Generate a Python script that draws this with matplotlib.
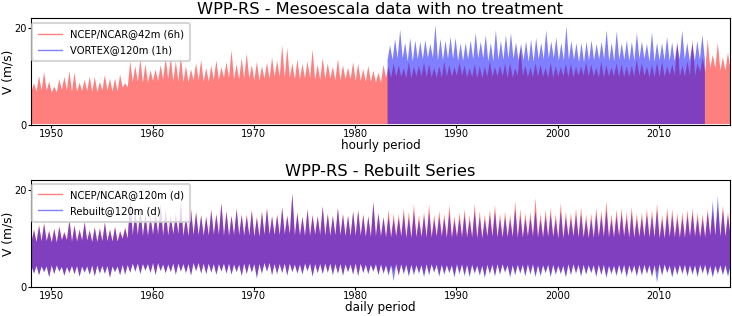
import numpy as np
import matplotlib
matplotlib.use("Agg")
import matplotlib.pyplot as plt
from matplotlib.lines import Line2D

# time span of the series (years)
start_year = 1948
end_year = 2017
vortex_start = 1983.15
vortex_end = 2014.47
top_floor = 0.3

# ---- top panel: raw mesoscale data ----
# half-year peak values (m/s)
ncep42_peak = [
    8.7, 10.2, 11.0, 9.0, 8.0, 9.5, 10.0, 11.2, 10.8, 8.8,
    9.4, 10.1, 10.0, 9.0, 10.4, 9.6, 9.7, 10.5, 8.7, 13.2,
    12.2, 13.7, 12.6, 11.4, 11.5, 12.4, 13.9, 14.1, 13.2, 14.4,
    12.2, 11.6, 12.8, 13.5, 11.8, 12.3, 13.4, 12.0, 13.0, 15.5,
    12.6, 13.8, 14.8, 12.4, 13.1, 12.2, 12.9, 14.0, 13.3, 16.5,
    16.0, 12.8, 13.6, 12.7, 13.2, 15.6, 12.5, 13.9, 12.8, 12.1,
    13.7, 12.4, 11.9, 13.0, 12.7, 11.6, 12.3, 11.3, 10.9, 12.5,
    12.2, 12.8, 12.4, 11.8, 13.0, 12.1, 12.3, 12.9, 12.6, 11.9,
    12.2, 13.1, 12.5, 12.0, 12.9, 12.3, 11.8, 12.6, 12.2, 12.1,
    13.2, 12.0, 12.3, 12.7, 12.9, 11.8, 15.9, 12.3, 12.0, 12.8,
    12.5, 11.9, 12.9, 12.2, 12.0, 12.6, 12.7, 12.1, 12.2, 13.0,
    12.6, 11.9, 13.1, 12.4, 12.0, 12.8, 12.6, 12.2, 12.3, 13.6,
    12.8, 12.1, 12.5, 13.0, 13.1, 12.2, 12.6, 17.3, 12.3, 13.2,
    17.7, 12.8, 13.9, 17.7, 14.5, 17.0, 14.0, 15.0,
]
# yearly upper level of the dense part
ncep42_body = [
    7.0, 7.2, 6.8, 7.3, 7.0, 7.1, 6.9, 7.2, 7.0, 7.8,
    9.0, 8.8, 9.2, 9.5, 9.1, 8.9, 9.3, 9.0, 9.4, 9.8,
    9.5, 9.7, 9.3, 9.6, 10.0, 9.8, 9.5, 9.7, 9.4, 9.6,
    9.3, 9.5, 9.2, 9.0, 8.8, 9.8, 10.0, 9.7, 10.1, 9.9,
    9.8, 10.0, 10.2, 9.9, 9.7, 10.0, 10.1, 9.8, 10.2, 9.9,
    10.0, 9.8, 10.1, 9.9, 10.2, 10.0, 9.8, 10.1, 9.9, 10.0,
    10.2, 9.9, 10.0, 10.3, 10.1, 10.2, 11.0, 11.8, 11.3,
]
vortex_peak = [
    16.5, 17.8, 19.7, 17.0, 18.0, 17.5, 17.2, 17.6, 16.8, 20.7,
    17.8, 17.4, 18.2, 18.0, 16.9, 17.0, 17.5, 19.0, 17.2, 18.6,
    17.0, 19.6, 17.4, 18.6, 19.0, 17.1, 16.8, 17.3, 17.6, 18.0,
    17.0, 19.6, 17.3, 18.1, 17.0, 20.4, 17.4, 16.9, 17.0, 17.2,
    17.5, 16.8, 17.2, 19.6, 17.0, 19.4, 16.9, 17.5, 17.2, 19.0,
    17.3, 16.8, 19.2, 17.0, 16.9, 18.2, 17.1, 16.8, 19.5, 17.0,
    16.8, 17.4, 18.6,
]
vortex_body = [
    13.5, 13.8, 13.2, 13.6, 13.9, 13.4, 13.7, 13.3, 13.6, 13.8,
    13.2, 13.5, 13.7, 13.4, 13.1, 13.6, 13.8, 13.3, 13.5, 13.0,
    13.4, 13.6, 13.2, 13.5, 13.3, 13.7, 13.1, 13.4, 13.2, 13.6,
    13.3, 13.5,
]

# ---- bottom panel: daily series ----
ncep120_peak = [
    12.0, 12.9, 13.3, 11.8, 12.2, 12.6, 11.5, 14.0, 12.9, 12.0,
    13.6, 11.9, 12.5, 12.3, 13.5, 12.0, 12.6, 11.7, 12.4, 18.4,
    15.8, 16.5, 15.2, 14.8, 15.5, 17.3, 16.0, 14.9, 15.3, 17.8,
    14.8, 16.2, 15.6, 15.0, 14.7, 16.1, 15.2, 17.5, 15.8, 14.9,
    16.3, 15.1, 15.0, 16.0, 14.6, 15.7, 16.4, 14.8, 15.1, 16.6,
    14.9, 19.4, 15.5, 14.7, 16.2, 15.0, 14.8, 16.8, 15.3, 14.9,
    16.5, 15.2, 14.9, 15.8, 16.0, 15.1, 14.8, 17.7, 15.4, 14.6,
    16.0, 15.2, 15.1, 16.3, 15.6, 17.1, 14.9, 15.5, 17.1, 15.0,
    15.8, 15.2, 17.0, 14.7, 15.4, 16.1, 14.9, 17.2, 15.7, 15.0,
    16.0, 17.0, 15.2, 15.6, 15.0, 17.8, 16.1, 15.3, 15.5, 18.4,
    15.2, 16.0, 16.4, 15.1, 17.4, 15.6, 15.3, 16.2, 16.5, 15.0,
    15.2, 16.4, 15.8, 17.8, 15.1, 16.0, 16.3, 15.5, 16.6, 15.2,
    15.4, 16.2, 15.9, 17.3, 15.0, 16.4, 16.1, 15.3, 15.5, 16.0,
    16.3, 15.4, 15.1, 16.2, 15.8, 16.5, 16.9, 15.5,
]
ncep120_dip = [
    3.0, 2.6, 3.3, 2.2, 2.9, 3.4, 2.5, 3.1, 2.8, 2.3,
    3.2, 2.7, 2.4, 3.0, 2.9, 2.1, 3.3, 2.6, 2.8, 3.1,
    3.4, 2.9, 3.6, 3.1, 2.7, 3.5, 3.0, 3.3, 2.8, 3.4,
    3.1, 2.6, 3.5, 3.0, 2.9, 3.2, 2.7, 3.4, 3.0, 2.8,
    3.3, 2.5, 2.9, 3.2, 2.2, 3.0, 3.4, 2.7, 2.9, 3.1,
    2.6, 3.3, 3.0, 2.8, 3.5, 2.4, 3.1, 2.9, 3.2, 2.7,
    3.0, 2.6, 3.3, 2.8, 2.5, 3.1, 2.9, 3.4, 2.7, 3.0,
    2.8, 3.2, 2.4, 3.0, 2.6, 2.9, 3.1, 2.5, 2.8, 3.3,
    2.6, 2.9, 3.2, 2.4, 3.0, 2.7, 2.5, 3.1, 2.8, 2.3,
    3.0, 2.6, 2.9, 3.3, 2.4, 2.8, 3.1, 2.6, 2.9, 2.5,
    2.7, 3.2, 2.5, 2.9, 3.0, 2.4, 2.8, 3.1, 2.6, 2.9,
    3.2, 2.5, 2.8, 2.3, 3.0, 2.7, 2.9, 2.4, 3.1, 2.6,
    2.8, 3.0, 2.5, 2.9, 2.7, 3.2, 2.4, 2.8, 3.0, 2.6,
    2.9, 2.5, 3.1, 2.7, 2.4, 3.0, 2.8, 2.6,
]
ncep120_body_hi = [
    9.4, 9.6, 9.3, 9.8, 9.5, 9.7, 9.4, 9.6, 9.5, 10.1,
    10.8, 10.6, 10.9, 10.7, 11.0, 10.6, 10.8, 10.7, 10.9, 10.6,
    10.8, 10.7, 10.5, 10.9, 10.8, 11.0, 10.7, 10.6, 10.9, 10.7,
    10.8, 10.6, 10.7, 10.5, 10.6, 10.4, 10.6, 10.3, 10.5, 10.4,
    10.6, 10.3, 10.5, 10.4, 10.2, 10.6, 10.4, 10.5, 10.3, 10.6,
    10.4, 10.5, 10.2, 10.6, 10.4, 10.3, 10.5, 10.4, 10.6, 10.3,
    10.5, 10.4, 10.2, 10.5, 10.3, 10.6, 10.4, 10.7, 10.5,
]
ncep120_body_lo = [
    4.5, 4.4, 4.6, 4.3, 4.5, 4.4, 4.6, 4.5, 4.4, 4.7,
    5.0, 4.9, 5.1, 4.8, 5.0, 4.9, 5.1, 5.0, 4.9, 5.0,
    4.8, 5.0, 4.9, 5.1, 4.9, 5.0, 4.8, 5.0, 4.9, 5.0,
    4.9, 4.8, 5.0, 4.8, 4.9, 4.7, 4.9, 4.8, 4.7, 4.9,
    4.8, 4.7, 4.9, 4.8, 4.6, 4.8, 4.9, 4.7, 4.8, 4.9,
    4.7, 4.8, 4.6, 4.9, 4.8, 4.7, 4.8, 4.6, 4.8, 4.7,
    4.8, 4.7, 4.9, 4.6, 4.8, 4.7, 4.8, 4.6, 4.7,
]
rebuilt_peak = [
    11.7, 12.6, 13.0, 11.5, 11.9, 12.4, 11.2, 13.7, 12.6, 11.8,
    13.3, 11.6, 12.2, 12.0, 13.2, 11.8, 12.3, 11.4, 12.1, 18.0,
    15.5, 16.2, 14.9, 14.5, 15.2, 17.0, 15.7, 14.6, 15.0, 17.5,
    14.5, 15.9, 15.3, 14.7, 14.4, 15.8, 14.9, 17.2, 15.5, 14.6,
    16.0, 14.8, 14.7, 15.7, 14.3, 15.4, 16.1, 14.5, 14.8, 16.3,
    14.6, 19.2, 15.2, 14.4, 15.9, 14.7, 14.5, 16.5, 15.0, 14.6,
    16.2, 14.9, 14.6, 15.5, 15.7, 14.8, 14.5, 17.4, 15.1, 14.3,
    14.6, 14.0, 14.2, 15.0, 14.3, 15.5, 13.8, 14.6, 15.4, 13.9,
    14.5, 14.2, 15.3, 13.7, 14.1, 14.9, 13.8, 15.6, 14.4, 13.9,
    14.8, 15.5, 14.0, 14.4, 13.9, 16.0, 14.7, 14.1, 14.3, 15.8,
    14.0, 14.7, 15.0, 13.9, 15.6, 14.3, 14.1, 14.9, 15.0, 13.8,
    14.0, 15.0, 14.6, 15.9, 13.9, 14.7, 15.0, 14.2, 15.2, 14.0,
    14.2, 14.9, 14.6, 15.8, 13.9, 15.0, 14.8, 14.1, 14.3, 14.8,
    15.1, 14.2, 14.0, 15.3, 17.8, 18.8, 15.9, 14.8,
]
rebuilt_dip = [
    2.8, 2.5, 3.1, 2.1, 2.7, 3.2, 2.4, 2.9, 2.7, 2.2,
    3.0, 2.6, 2.3, 2.8, 2.8, 2.0, 3.1, 2.5, 2.6, 3.0,
    3.2, 2.7, 3.4, 2.9, 2.5, 3.3, 2.9, 3.1, 2.6, 3.2,
    2.9, 2.4, 3.3, 2.8, 2.7, 3.0, 2.6, 3.2, 2.8, 2.6,
    3.1, 2.3, 2.7, 3.0, 1.8, 2.8, 3.2, 2.5, 2.7, 2.9,
    2.4, 3.1, 2.8, 2.6, 3.3, 2.2, 2.9, 2.7, 3.0, 2.5,
    2.8, 2.4, 3.1, 2.6, 2.3, 2.9, 2.7, 3.2, 2.5, 2.8,
    2.4, 1.3, 2.6, 2.7, 2.2, 2.5, 2.8, 2.1, 2.5, 3.0,
    2.2, 2.6, 2.9, 2.0, 2.7, 2.3, 2.1, 2.8, 2.4, 1.9,
    2.7, 2.2, 2.6, 3.0, 2.0, 2.5, 2.8, 2.2, 2.6, 2.1,
    2.3, 2.9, 2.1, 2.6, 2.7, 2.0, 2.5, 2.8, 2.2, 2.6,
    2.9, 2.1, 2.5, 1.9, 2.7, 2.3, 2.6, 2.0, 2.8, 2.2,
    2.4, 2.7, 2.1, 1.0, 2.4, 2.9, 2.0, 2.5, 2.7, 2.2,
    2.6, 2.1, 2.8, 2.3, 2.0, 2.7, 2.5, 2.2,
]
rebuilt_body_hi = [
    9.3, 9.5, 9.2, 9.7, 9.4, 9.6, 9.3, 9.5, 9.4, 10.0,
    10.7, 10.5, 10.8, 10.6, 10.9, 10.5, 10.7, 10.6, 10.8, 10.5,
    10.7, 10.6, 10.4, 10.8, 10.7, 10.9, 10.6, 10.5, 10.8, 10.6,
    10.7, 10.5, 10.6, 10.3, 10.4, 10.2, 10.4, 10.1, 10.3, 10.2,
    10.4, 10.1, 10.3, 10.2, 10.0, 10.4, 10.2, 10.3, 10.1, 10.4,
    10.2, 10.3, 10.0, 10.4, 10.2, 10.1, 10.3, 10.2, 10.4, 10.1,
    10.3, 10.2, 10.0, 10.3, 10.1, 10.4, 10.2, 10.6, 10.4,
]
rebuilt_body_lo = [
    4.4, 4.3, 4.5, 4.2, 4.4, 4.3, 4.5, 4.4, 4.3, 4.6,
    4.9, 4.8, 5.0, 4.7, 4.9, 4.8, 5.0, 4.9, 4.8, 4.9,
    4.7, 4.9, 4.8, 5.0, 4.8, 4.9, 4.7, 4.9, 4.8, 4.9,
    4.8, 4.7, 4.9, 4.6, 4.7, 4.5, 4.7, 4.6, 4.5, 4.7,
    4.6, 4.5, 4.7, 4.6, 4.4, 4.6, 4.7, 4.5, 4.6, 4.7,
    4.5, 4.6, 4.4, 4.7, 4.6, 4.5, 4.6, 4.4, 4.6, 4.5,
    4.6, 4.5, 4.7, 4.4, 4.6, 4.5, 4.6, 4.4, 4.5,
]


def zigzag(t0, t1, peaks, body):
    # valleys at the half-year edges (dense level), peaks in the middle
    n = len(peaks)
    edges = np.linspace(t0, t1, n + 1)
    mids = (edges[:-1] + edges[1:]) / 2
    level = np.asarray(body)[np.arange(n) // 2]
    x = np.empty(2 * n + 1)
    y = np.empty(2 * n + 1)
    x[0::2] = edges
    x[1::2] = mids
    y[0::2] = np.append(level, level[-1])
    y[1::2] = peaks
    return x, y


def draw_top(ax, t0, t1, peaks, body, color):
    x, hi = zigzag(t0, t1, peaks, body)
    ax.fill_between(x, top_floor, hi, color=color, alpha=0.5, lw=0)


def draw_daily(ax, peaks, dips, body_hi, body_lo, color):
    x, hi = zigzag(start_year, end_year, peaks, body_hi)
    _, lo = zigzag(start_year, end_year, dips, body_lo)
    ax.fill_between(x, lo, hi, color=color, alpha=0.5, lw=0)


def add_legend(ax, labels, anchor_y):
    handles = [Line2D([], [], color='r', alpha=0.5, lw=1),
               Line2D([], [], color='b', alpha=0.5, lw=1)]
    leg = ax.legend(handles, labels, loc='upper left', fontsize=7.2,
                    bbox_to_anchor=(0.002, anchor_y), borderaxespad=0,
                    borderpad=0.6, labelspacing=0.6, handlelength=2.4)
    leg.get_frame().set_linewidth(1.5)


fig = plt.figure(figsize=(7.32, 3.16), dpi=100)
ax1 = fig.add_axes([0.0423, 0.6044, 0.955, 0.3386])
ax2 = fig.add_axes([0.0423, 0.0918, 0.955, 0.3386])

draw_top(ax1, start_year, end_year, ncep42_peak, ncep42_body, 'r')
draw_top(ax1, vortex_start, vortex_end, vortex_peak, vortex_body, 'b')
ax1.set_title('WPP-RS - Mesoescala data with no treatment', fontsize=11.7, pad=3)
ax1.set_xlabel('hourly period', fontsize=8.6, labelpad=0)
add_legend(ax1, ['NCEP/NCAR@42m (6h)', 'VORTEX@120m (1h)'], 0.953)

draw_daily(ax2, ncep120_peak, ncep120_dip, ncep120_body_hi, ncep120_body_lo, 'r')
draw_daily(ax2, rebuilt_peak, rebuilt_dip, rebuilt_body_hi, rebuilt_body_lo, 'b')
ax2.set_title('WPP-RS - Rebuilt Series', fontsize=11.7, pad=3)
ax2.set_xlabel('daily period', fontsize=8.6, labelpad=0)
add_legend(ax2, ['NCEP/NCAR@120m (d)', 'Rebuilt@120m (d)'], 0.963)

for ax in (ax1, ax2):
    ax.set_xlim(start_year, end_year)
    ax.set_ylim(0, 22)
    ax.set_yticks([0, 20])
    ax.set_xticks(range(1950, 2011, 10))
    ax.tick_params(labelsize=7.1, pad=1, length=2.2)
    ax.set_ylabel('V (m/s)', fontsize=8.8, labelpad=0)

fig.savefig('out.png', dpi=100)
